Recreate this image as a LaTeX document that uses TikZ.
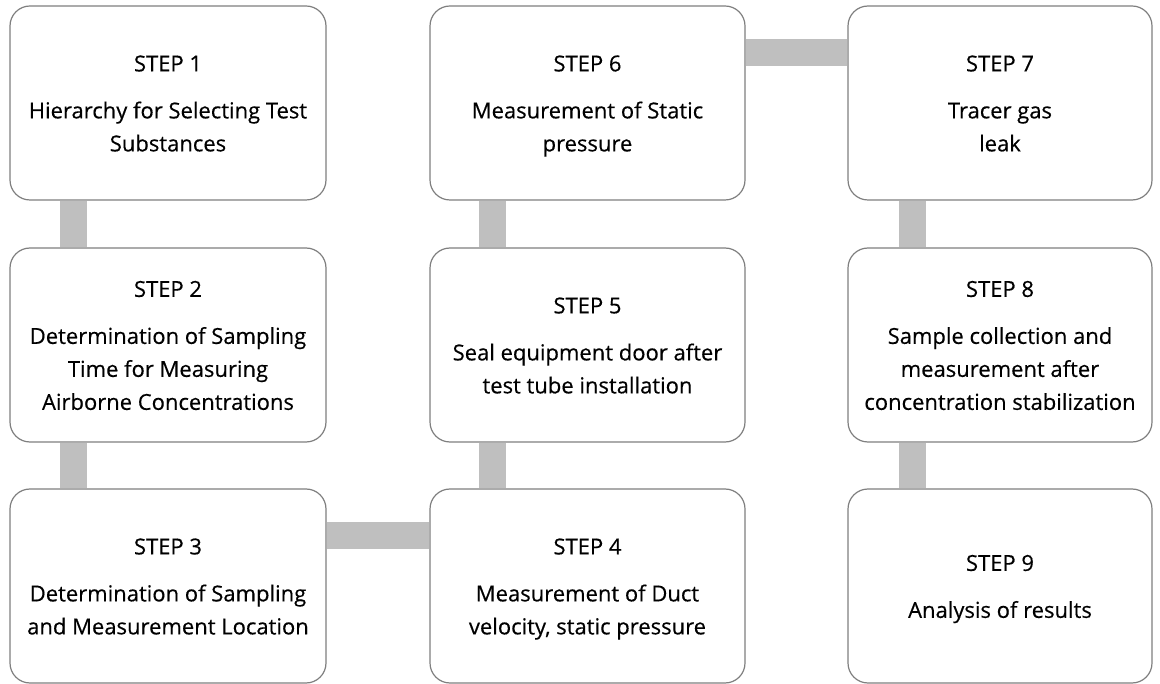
\documentclass[tikz,border=0pt]{standalone}
\usepackage{fontspec}
\setmainfont[FakeBold=0.4]{Open Sans}
\usepackage{tikz}
\usetikzlibrary{calc}

\definecolor{barg}{HTML}{BFBFBF}
\definecolor{edgeg}{HTML}{7F7F7F}
\newcommand{\firstht}{\rule{0pt}{22pt}}
\newcommand{\lastdp}{\vphantom{p}}

\begin{document}
\begin{tikzpicture}[x=1pt,y=-1pt,
		stepbox/.style={draw=edgeg,line width=1.2pt,fill=white,rounded corners=20pt,
			minimum height=194pt,align=center,inner sep=0pt,
			font=\fontsize{22}{33}\selectfont},
		link/.style={draw=barg,line width=27pt}]

	\useasboundingbox (0,0) rectangle (1160,684);

	% boxes, column by column
	\node[stepbox,minimum width=316pt] (s1) at (168,103) {\firstht STEP 1\\[14pt]Hierarchy for Selecting Test\\Substances\lastdp};
	\node[stepbox,minimum width=316pt] (s2) at (168,345) {\firstht STEP 2\\[14pt]Determination of Sampling\\Time for Measuring\\Airborne Concentrations\lastdp};
	\node[stepbox,minimum width=316pt] (s3) at (168,586) {\firstht STEP 3\\[14pt]Determination of Sampling\\and Measurement Location\lastdp};

	\node[stepbox,minimum width=315pt] (s4) at (587.5,586) {\firstht STEP 4\\[14pt]Measurement of Duct\\velocity, static pressure\lastdp};
	\node[stepbox,minimum width=315pt] (s5) at (587.5,345) {\firstht STEP 5\\[14pt]Seal equipment door after\\test tube installation\lastdp};
	\node[stepbox,minimum width=315pt] (s6) at (587.5,103) {\firstht STEP 6\\[14pt]Measurement of Static\\pressure\lastdp};

	\node[stepbox,minimum width=304pt] (s7) at (1000,103) {\firstht STEP 7\\[14pt]Tracer gas\\leak\lastdp};
	\node[stepbox,minimum width=304pt] (s8) at (1000,345) {\firstht STEP 8\\[14pt]Sample collection and\\measurement after\\concentration stabilization\lastdp};
	\node[stepbox,minimum width=304pt] (s9) at (1000,586) {\firstht STEP 9\\[14pt]Analysis of results\lastdp};

	% grey bars between the boxes
	\draw[link] ([xshift=64pt]s1.south west) -- ([xshift=64pt]s2.north west);
	\draw[link] ([xshift=64pt]s2.south west) -- ([xshift=64pt]s3.north west);
	\draw[link] ([yshift=-47.5pt]s3.north east) -- ([yshift=-47.5pt]s4.north west);
	\draw[link] ([xshift=63.5pt]s4.north west) -- ([xshift=63.5pt]s5.south west);
	\draw[link] ([xshift=63.5pt]s5.north west) -- ([xshift=63.5pt]s6.south west);
	\draw[link] ([yshift=-47.5pt]s6.north east) -- ([yshift=-47.5pt]s7.north west);
	\draw[link] ([xshift=65pt]s7.south west) -- ([xshift=65pt]s8.north west);
	\draw[link] ([xshift=65pt]s8.south west) -- ([xshift=65pt]s9.north west);
\end{tikzpicture}
\end{document}
